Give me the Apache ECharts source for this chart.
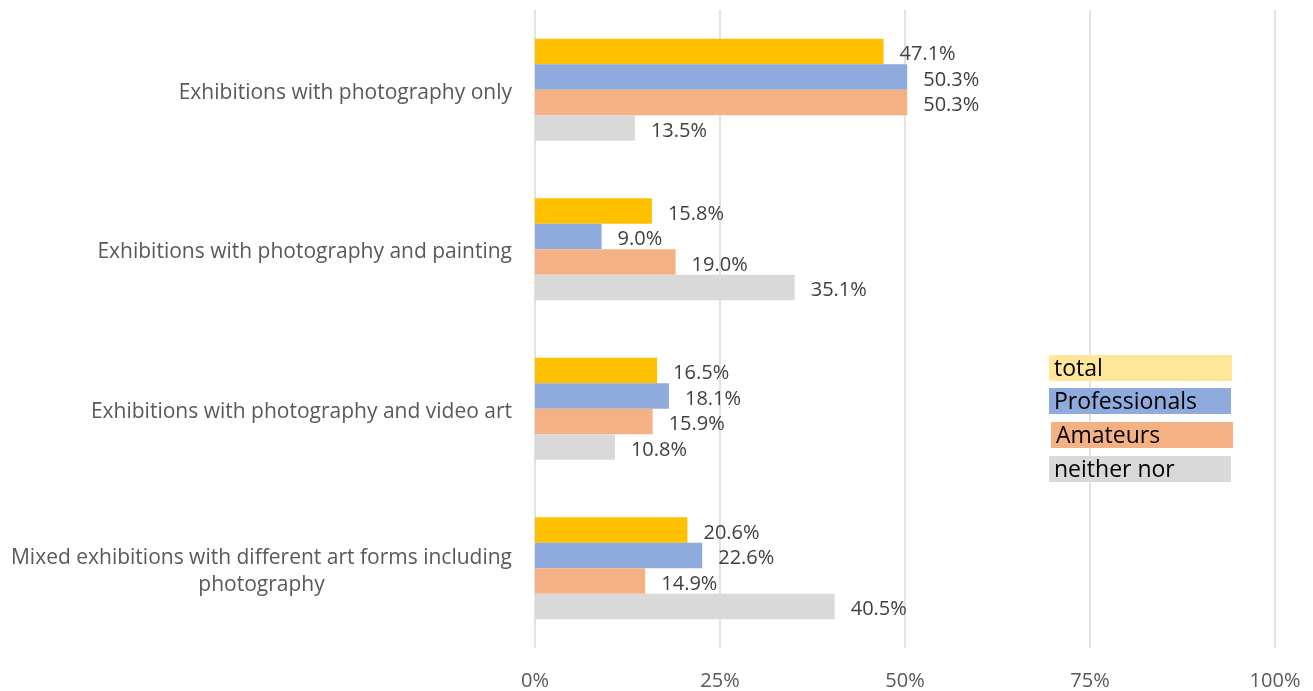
<!DOCTYPE html>
<html>
<head>
<meta charset="utf-8">
<script src="https://cdn.jsdelivr.net/npm/echarts@6/dist/echarts.min.js"></script>
<style>
  html, body { margin: 0; padding: 0; background: #fff; }
  #chart { width: 1313px; height: 691px; }
</style>
</head>
<body>
<div id="chart"></div>
<script>
// Exhibition formats, shares by respondent group (percent)
const categories = [
  'Exhibitions with photography only',
  'Exhibitions with photography and painting',
  'Exhibitions with photography and video art',
  'Mixed exhibitions with different art forms including\nphotography'
];
const seriesNames = ['total', 'Professionals', 'Amateurs', 'neither nor'];
const totalValues = [47.1, 15.8, 16.5, 20.6];
const professionalValues = [50.3, 9.0, 18.1, 22.6];
const amateurValues = [50.3, 19.0, 15.9, 14.9];
const neitherValues = [13.5, 35.1, 10.8, 40.5];
const tickValues = [0, 25, 50, 75, 100];

const barColors = ['#FFC000', '#8FAADC', '#F4B183', '#D9D9D9'];
const legendColors = ['#FFE699', '#8FAADC', '#F4B183', '#D9D9D9'];
const FONT = '"Open Sans", "Noto Sans", sans-serif';

const chart = echarts.init(document.getElementById('chart'), null, { renderer: 'canvas' });

const valueSets = [totalValues, professionalValues, amateurValues, neitherValues];
const series = seriesNames.map((name, i) => ({
  name,
  type: 'bar',
  data: valueSets[i],
  barWidth: 25.5,
  barGap: '0%',
  itemStyle: { color: barColors[i] },
  label: {
    show: true,
    position: 'right',
    distance: 16,
    offset: [0, 3],
    color: '#404040',
    fontFamily: FONT,
    fontSize: 20,
    formatter: p => p.value.toFixed(1) + '%'
  },
  emphasis: { disabled: true }
}));

// Legend drawn as filled text boxes
const legendBoxes = [
  { x: 1049, y: 355, w: 183 },
  { x: 1049, y: 388, w: 182 },
  { x: 1051, y: 422, w: 182 },
  { x: 1049, y: 456, w: 182 }
];
const graphic = [];
seriesNames.forEach((name, i) => {
  const b = legendBoxes[i];
  graphic.push({
    type: 'rect', left: b.x, top: b.y, z: 100,
    shape: { width: b.w, height: 26 },
    style: { fill: legendColors[i] }
  });
  graphic.push({
    type: 'text', left: b.x + 5, top: b.y + 3, z: 101,
    style: { text: name, fill: '#000', font: '23px ' + FONT }
  });
});

chart.setOption({
  animation: false,
  grid: { left: 535, right: 38, top: 10, bottom: 43, containLabel: false },
  xAxis: {
    type: 'value',
    min: 0, max: 100, interval: 25,
    axisLine: { show: false },
    axisTick: { show: false },
    splitLine: { show: true, lineStyle: { color: '#D9D9D9', width: 1.5 } },
    axisLabel: {
      color: '#595959', fontFamily: FONT, fontSize: 20, margin: 23,
      formatter: v => tickValues.includes(v) ? v + '%' : ''
    }
  },
  yAxis: {
    type: 'category',
    inverse: true,
    data: categories,
    axisLine: { show: false },
    axisTick: { show: false },
    axisLabel: {
      margin: 23,
      padding: [6, 0, 0, 0],
      color: '#595959', fontFamily: FONT, fontSize: 21,
      formatter: v => v.split('\n').map(s => '{a|' + s + '}').join('\n'),
      rich: {
        a: { align: 'center', color: '#595959', fontFamily: FONT, fontSize: 21, lineHeight: 27 }
      }
    }
  },
  series,
  graphic
});
</script>
</body>
</html>
